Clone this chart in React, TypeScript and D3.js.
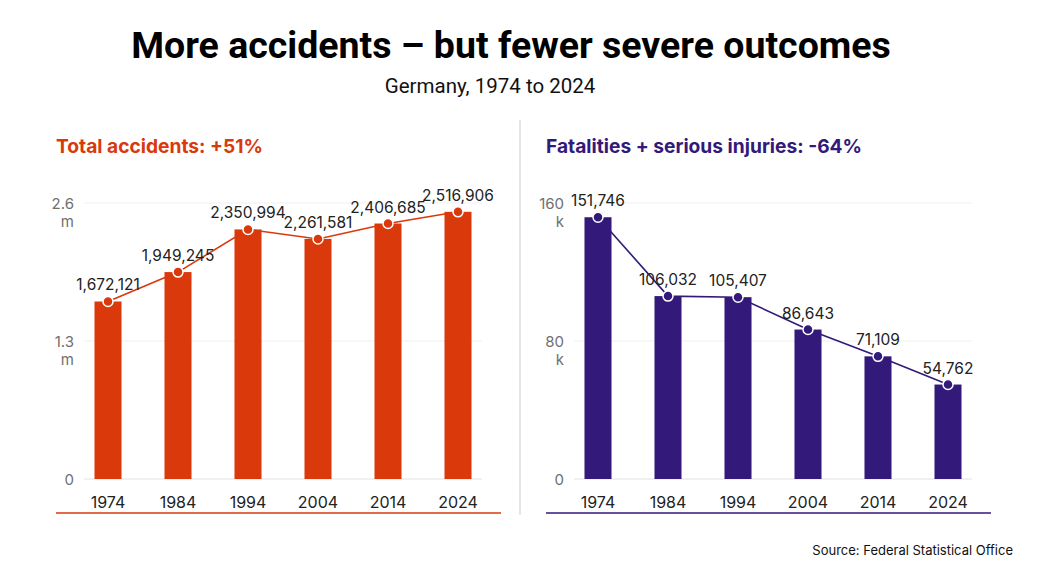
import React from 'react';
import * as d3 from 'd3';

const years = ['1974', '1984', '1994', '2004', '2014', '2024'];
const totalAccidents = [1672121, 1949245, 2350994, 2261581, 2406685, 2516906];
const severeCasualties = [151746, 106032, 105407, 86643, 71109, 54762];
const accidentTicks = [0, 1300000, 2600000];
const accidentTickLabels = [['0'], ['1.3', 'm'], ['2.6', 'm']];
const casualtyTicks = [0, 80000, 160000];
const casualtyTickLabels = [['0'], ['80', 'k'], ['160', 'k']];

const W = 1040;
const H = 585;
const FONT = 'Inter, "Open Sans", sans-serif';

type PanelProps = {
  offsetX: number;
  title: string;
  color: string;
  values: number[];
  ticks: number[];
  tickLabels: string[][];
};

const Panel = ({ offsetX, title, color, values, ticks, tickLabels }: PanelProps) => {
  const top = 203;
  const bottom = 479;
  const gridLeft = 84;
  const gridRight = 482;

  const x = d3.scaleBand().domain(years).range([73, 493]).paddingInner(0.614).paddingOuter(0.307);
  const y = d3.scaleLinear().domain([0, ticks[ticks.length - 1]]).range([bottom, top]);
  const fmt = d3.format(',');

  const cx = (d: string) => (x(d) ?? 0) + x.bandwidth() / 2;
  const line = d3
    .line<number>()
    .x((_, i) => cx(years[i]))
    .y((v) => y(v));

  return (
    <g transform={`translate(${offsetX},0)`}>
      <text x={56} y={153} fill={color} fontSize={19.2} fontWeight={700} fontFamily={FONT}>
        {title}
      </text>

      {ticks.map((t, i) => (
        <g key={t}>
          <line x1={gridLeft} x2={gridRight} y1={y(t)} y2={y(t)} stroke={i === 0 ? '#e2e2e2' : '#efefef'} strokeWidth={1} />
          {tickLabels[i].map((s, j) => (
            <text
              key={j}
              x={74}
              y={y(t) + 6 + j * 18}
              textAnchor="end"
              fill="#6f6f6f"
              fontSize={15}
              fontFamily={FONT}
            >
              {s}
            </text>
          ))}
        </g>
      ))}

      {values.map((v, i) => (
        <rect
          key={years[i]}
          x={x(years[i])}
          y={y(v)}
          width={x.bandwidth()}
          height={bottom - y(v)}
          fill={color}
        />
      ))}

      <path d={line(values) ?? ''} fill="none" stroke={color} strokeWidth={1.6} />

      {values.map((v, i) => (
        <circle key={years[i]} cx={cx(years[i])} cy={y(v)} r={5} fill={color} stroke="#fff" strokeWidth={1.5} />
      ))}

      {values.map((v, i) => (
        <text
          key={years[i]}
          x={cx(years[i])}
          y={y(v) - 11}
          textAnchor="middle"
          fill="#222"
          fontSize={15.5}
          fontFamily={FONT}
        >
          {fmt(v)}
        </text>
      ))}

      {years.map((yr) => (
        <text key={yr} x={cx(yr)} y={508} textAnchor="middle" fill="#222" fontSize={16} fontFamily={FONT}>
          {yr}
        </text>
      ))}

      <line x1={56} x2={501} y1={513} y2={513} stroke={color} strokeWidth={1.5} />
    </g>
  );
};

const App = () => {
  return (
    <div style={{ position: 'fixed', left: 0, top: 0 }}>
      <svg width={W} height={H} style={{ display: 'block', background: '#fff' }}>
        <rect width={W} height={H} fill="#fff" />
        <text x={511} y={58} textAnchor="middle" fill="#000" fontSize={37.5} fontWeight={700} fontFamily="Roboto, sans-serif">
          More accidents – but fewer severe outcomes
        </text>
        <text x={490} y={93} textAnchor="middle" fill="#111" fontSize={20.5} fontFamily="Roboto, sans-serif">
          Germany, 1974 to 2024
        </text>

        <line x1={520} x2={520} y1={120} y2={515} stroke="#dcdcdc" strokeWidth={1.5} />

        <Panel
          offsetX={0}
          title="Total accidents: +51%"
          color="#d9390b"
          values={totalAccidents}
          ticks={accidentTicks}
          tickLabels={accidentTickLabels}
        />
        <Panel
          offsetX={490}
          title="Fatalities + serious injuries: -64%"
          color="#33197a"
          values={severeCasualties}
          ticks={casualtyTicks}
          tickLabels={casualtyTickLabels}
        />

        <text x={1013} y={555} textAnchor="end" fill="#111" fontSize={13} fontFamily={FONT}>
          Source: Federal Statistical Office
        </text>
      </svg>
    </div>
  );
};

export default App;
